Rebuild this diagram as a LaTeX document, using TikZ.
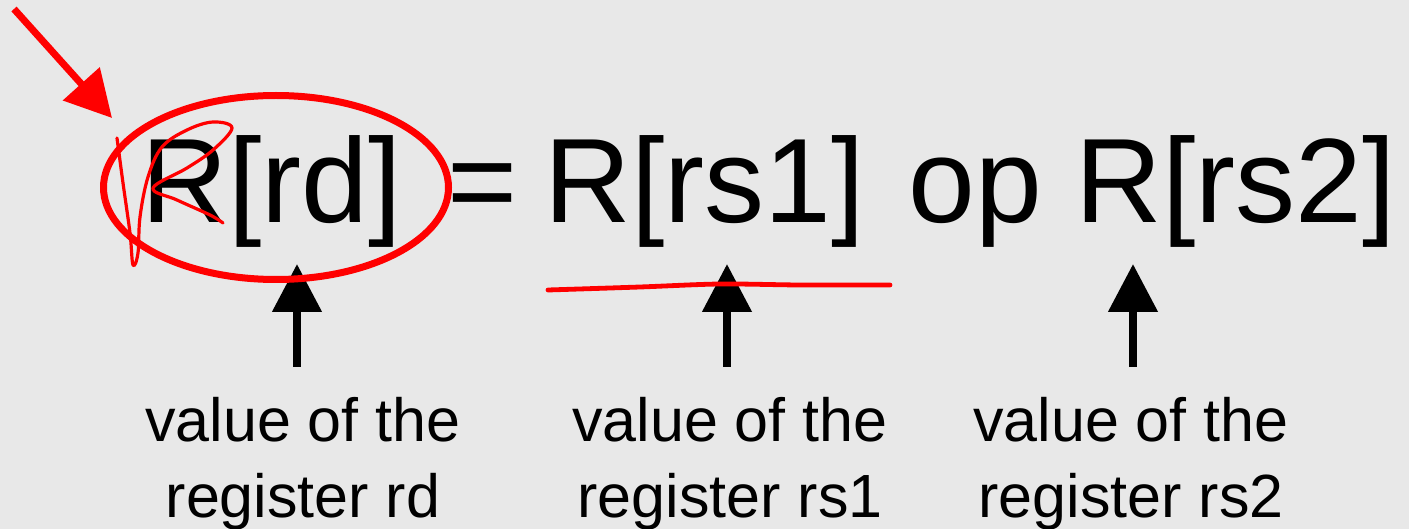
\documentclass[tikz,border=0pt]{standalone}
\usepackage{fontspec}
\setmainfont{Liberation Sans}
\usetikzlibrary{arrows.meta}
\definecolor{bg}{RGB}{232,232,232}
\definecolor{pen}{RGB}{255,0,0}
\begin{document}
\begin{tikzpicture}[x=0.5pt,y=-0.5pt,
  eq/.style={inner sep=0pt, anchor=base west, font=\fontsize{60}{72}\selectfont},
  lab/.style={inner sep=0pt, anchor=base, align=center, font=\fontsize{30.5}{38}\selectfont},
  uparrow/.style={line width=4pt, -{Triangle[length=24pt,width=24pt]}},
  ink/.style={draw=pen, line cap=round, line join=round}]
\fill[bg] (0,0) rectangle (1409,529);
\useasboundingbox (0,0) rectangle (1409,529);
% equation
\node[eq] (lhs) at (141,223) {R[rd]};
\node[eq] (eqs) at (447,223) {=};
\node[eq] (rs1) at (544,223) {R[rs1]};
\node[eq] (op) at (908,223) {op};
\node[eq] (rs2) at (1075,223) {R[rs2]};
% labels
\node[lab] (l1) at (303,517) {value of the\\register rd};
\node[lab] (l2) at (730,517) {value of the\\register rs1};
\node[lab] (l3) at (1131,517) {value of the\\register rs2};
% black arrows
\coordinate (a1s) at (297,367); \coordinate (a1e) at (297,264);
\coordinate (a2s) at (727,367); \coordinate (a2e) at (727,264);
\coordinate (a3s) at (1133,367); \coordinate (a3e) at (1133,264);
\draw[uparrow] (a1s) -- (a1e);
\draw[uparrow] (a2s) -- (a2e);
\draw[uparrow] (a3s) -- (a3e);
% red annotations
\draw[ink, line width=3.5pt] (276,187.5) ellipse [x radius=86.25pt, y radius=46pt];
\coordinate (ra0) at (14,9); \coordinate (ra1) at (112,118);
\draw[pen, line width=3.5pt, -{Triangle[length=23pt,width=24pt]}] (ra0) -- (ra1);
\draw[ink, line width=1.6pt] plot[smooth, tension=0.6] coordinates {(117,138) (123,183) (130,233) (133,265) (138,253) (140,217) (148,177) (162,147) (187,130) (213,122) (232,128) (213,150) (187,168) (153,188) (177,200) (210,215) (223,223)};
\draw[ink, line width=2.4pt] plot[smooth] coordinates {(548,290) (640,287) (720,284) (800,285) (890,285)};
\end{tikzpicture}
\end{document}
